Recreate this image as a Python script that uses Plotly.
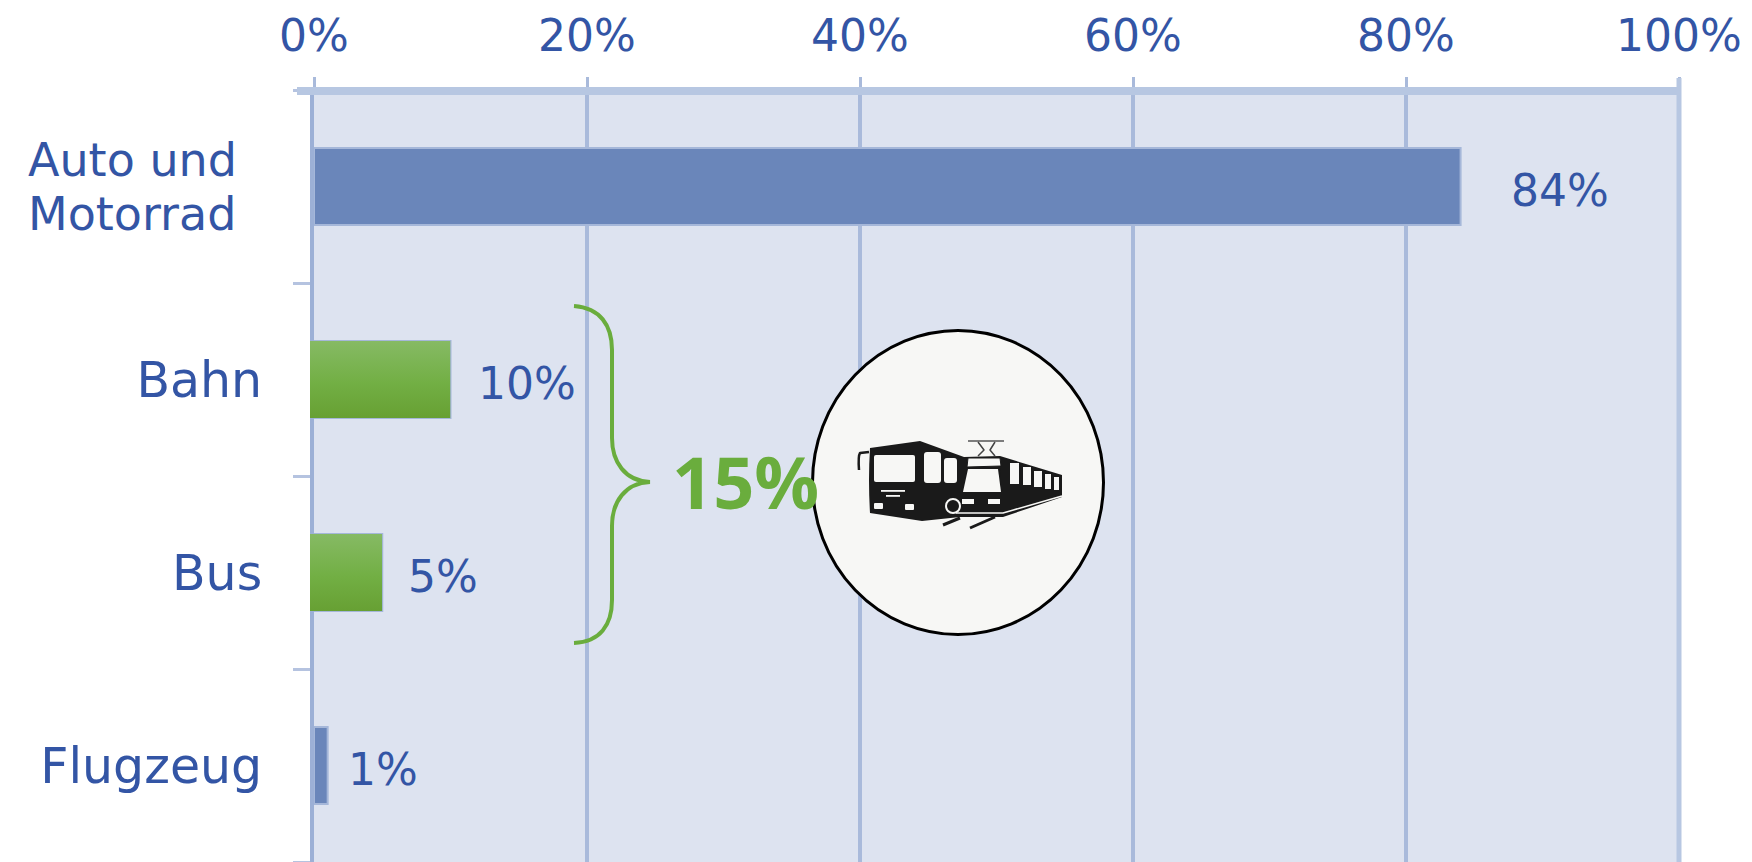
import base64
import plotly.graph_objects as go

categories = ["Auto und Motorrad", "Bahn", "Bus", "Flugzeug"]
tick_labels = ["", "Bahn", "Bus", "Flugzeug"]
first_label_lines = ["Auto und", "Motorrad"]
values = [84, 10, 5, 1]
value_labels = ["84%", "10%", "5%", "1%"]
label_gaps = [48, 25, 24, 18]
bar_colors = ["#6A86BA", "#74AE45", "#74AE45", "#6A86BA"]
x_ticks = [0, 20, 40, 60, 80, 100]
x_tick_labels = ["0%", "20%", "40%", "60%", "80%", "100%"]
group_label = "15%"

W, H = 1752, 862
L, R, T, B = 314, 1679, 90, 862
BLUE = "#3355A5"
GREEN = "#6AAD3D"
GRID = "#A9BADB"
BAND = "#B7C7E2"
BAR_W = 0.4


def px(x):
    return (x - L) / (R - L)


def py(y):
    return (B - y) / (B - T)


def uri(svg):
    return "data:image/svg+xml;base64," + base64.b64encode(svg.encode()).decode()


gradient = uri(
    '<svg xmlns="http://www.w3.org/2000/svg" viewBox="0 0 10 10" preserveAspectRatio="none">'
    '<defs><linearGradient id="g" x1="0" y1="0" x2="0" y2="1">'
    '<stop offset="0" stop-color="#86BA64"/><stop offset="0.55" stop-color="#72AF44"/>'
    '<stop offset="1" stop-color="#67A033"/></linearGradient></defs>'
    '<rect width="10" height="10" fill="url(#g)"/></svg>'
)

BG = "#F7F7F5"
DK = "#1A1A1A"
icon = uri(
    f'''<svg xmlns="http://www.w3.org/2000/svg" viewBox="810 328 296 309" width="296" height="309">
<ellipse cx="958" cy="482.5" rx="145.5" ry="152" fill="{BG}" stroke="#000" stroke-width="3"/>
<g stroke-linejoin="round">
<path d="M870 448 L920 441 L964 457 L1000 456 L1062 475 L1062 497 L1003 517 L960 517 L922 521 L870 513 Q868 480 870 448Z" fill="{DK}"/>
<path d="M869 452 L860 453 Q858 456 859 470" fill="none" stroke="{DK}" stroke-width="2.5"/>
<rect x="874" y="455" width="41" height="27" rx="2" fill="{BG}"/>
<rect x="924" y="452" width="17" height="31" rx="3" fill="{BG}"/>
<rect x="944" y="458" width="13" height="25" rx="3" fill="{BG}"/>
<rect x="881" y="490" width="24" height="1.8" fill="{BG}"/>
<rect x="886" y="495" width="14" height="1.8" fill="{BG}"/>
<rect x="874" y="503" width="9" height="6" rx="1" fill="{BG}"/>
<rect x="905" y="504" width="9" height="6" rx="1" fill="{BG}"/>
<circle cx="953" cy="506" r="7" fill="{DK}" stroke="{BG}" stroke-width="2"/>
<path d="M969 459 L1000 459 L1001 484 L962 492 Z" fill="{DK}"/>
<path d="M968 458 L1000 458 L1001 466 L967 467Z" fill="{BG}" stroke="{DK}" stroke-width="1"/>
<path d="M968 469 L998 469 L1001 492 L963 492Z" fill="{BG}"/>
<rect x="962" y="499" width="12" height="5" fill="{BG}"/>
<rect x="988" y="499" width="12" height="5" fill="{BG}"/>
<path d="M968 441 H1004" stroke="#555" stroke-width="1.5" fill="none"/>
<path d="M978 442 L984 450 L978 456 M995 442 L990 450 L995 456" stroke="#444" stroke-width="1.5" fill="none"/>
<rect x="1010" y="463" width="9" height="21" fill="{BG}"/>
<rect x="1023" y="467" width="8" height="18" fill="{BG}"/>
<rect x="1034" y="471" width="8" height="16" fill="{BG}"/>
<rect x="1045" y="474" width="6" height="15" fill="{BG}"/>
<rect x="1054" y="477" width="5" height="13" fill="{BG}"/>
<path d="M956 513 H1003 L1062 496" stroke="{BG}" stroke-width="1.6" fill="none"/>
<path d="M943 525 L960 518 M970 528 L995 517" stroke="{DK}" stroke-width="3" fill="none"/>
</g></svg>'''
)

fig = go.Figure(
    go.Bar(
        x=values,
        y=categories,
        orientation="h",
        width=BAR_W,
        marker=dict(color=bar_colors, line=dict(color="#A5B7D9", width=2)),
        hoverinfo="skip",
    )
)

lead = 4 / (R - L)
images = []
for i, (v, c) in enumerate(zip(values, bar_colors)):
    if c == "#74AE45":
        images.append(
            dict(
                source=gradient, xref="paper", yref="paper", x=-lead, sizex=v / 100 + lead,
                y=1 - (i + 0.5 - BAR_W / 2) / len(values), sizey=BAR_W / len(values),
                xanchor="left", yanchor="top", sizing="stretch", layer="above",
            )
        )
images.append(
    dict(
        source=icon, xref="paper", yref="paper", x=px(810), y=py(328),
        sizex=px(1106) - px(810), sizey=py(328) - py(637),
        xanchor="left", yanchor="top", sizing="stretch", layer="above",
    )
)

annotations = [
    dict(
        x=v, y=c, xref="x", yref="y", text=t, showarrow=False, xanchor="left",
        xshift=g, yshift=-4, font=dict(family="DejaVu Sans", size=44, color=BLUE),
    )
    for c, v, t, g in zip(categories, values, value_labels, label_gaps)
]
annotations.append(
    dict(
        x=px(745), y=py(481), xref="paper", yref="paper", text=f"<b>{group_label}</b>",
        xanchor="center", yanchor="middle",
        showarrow=False, font=dict(family="Open Sans", size=72, color=GREEN),
    )
)
for line, ypos in zip(first_label_lines, [160, 214]):
    annotations.append(
        dict(
            x=px(132), y=py(ypos), xref="paper", yref="paper", text=line,
            xanchor="center", yanchor="middle", showarrow=False,
            font=dict(family="DejaVu Sans", size=46, color=BLUE),
        )
    )

brace = (
    f"M {px(574)} {py(306)} C {px(600)} {py(308)} {px(612)} {py(325)} {px(612)} {py(350)} "
    f"L {px(612)} {py(438)} C {px(612)} {py(462)} {px(625)} {py(481)} {px(650)} {py(482)} "
    f"C {px(625)} {py(483)} {px(612)} {py(502)} {px(612)} {py(526)} "
    f"L {px(612)} {py(600)} C {px(612)} {py(625)} {px(600)} {py(642)} {px(574)} {py(643)}"
)

shapes = [
    dict(type="path", path=brace, xref="paper", yref="paper", layer="above",
         line=dict(color=GREEN, width=4)),
    dict(type="line", xref="paper", yref="paper", x0=px(297), x1=1, y0=py(91), y1=py(91), layer="above",
         line=dict(color=BAND, width=8)),
    dict(type="line", xref="paper", yref="paper", x0=1, x1=1, y0=0, y1=py(78), layer="above",
         line=dict(color=BAND, width=5)),
]

fig.update_layout(
    width=W, height=H, autosize=False,
    margin=dict(l=L, r=W - R, t=T, b=H - B, pad=0),
    paper_bgcolor="#FFFFFF", plot_bgcolor="#DDE3F0",
    showlegend=False, bargap=0.6,
    images=images, annotations=annotations, shapes=shapes,
    xaxis=dict(
        side="top", range=[0, 100], tickvals=x_ticks, ticktext=x_tick_labels,
        showgrid=True, gridcolor=GRID, gridwidth=4, zeroline=False,
        showline=False,
        ticks="outside", ticklen=12, tickwidth=3, tickcolor=GRID,
        ticklabelstandoff=8,
        tickfont=dict(family="DejaVu Sans", size=44, color=BLUE),
    ),
    yaxis=dict(
        type="category", categoryorder="array", categoryarray=categories,
        tickmode="array", tickvals=categories, ticktext=tick_labels,
        range=[3.5, -0.5], showgrid=False, zeroline=False,
        showline=True, linecolor="#9CB0D6", linewidth=4,
        ticks="outside", ticklen=17, tickwidth=3, tickcolor="#B5C3E0", tickson="boundaries",
        ticklabelstandoff=38,
        tickfont=dict(family="DejaVu Sans", size=49, color=BLUE),
    ),
)
fig.write_html(
    "out.html",
    config={"displayModeBar": False},
    post_script="document.body.style.margin='0';document.body.style.overflow='hidden';",
)
